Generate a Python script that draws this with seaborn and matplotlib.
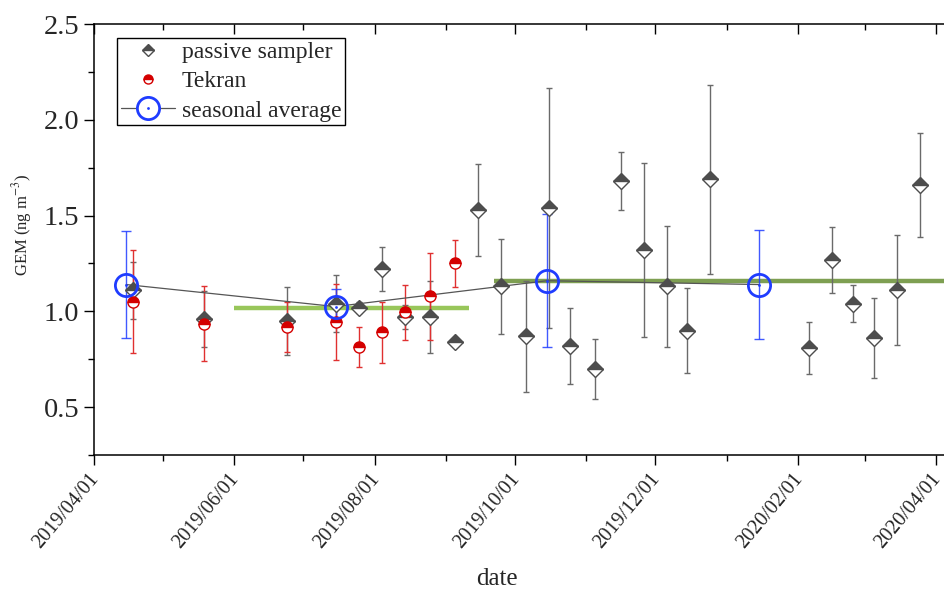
import matplotlib
matplotlib.use("Agg")
import matplotlib.pyplot as plt
import matplotlib.dates as mdates
from matplotlib.lines import Line2D
from matplotlib.legend_handler import HandlerTuple
from matplotlib.ticker import MultipleLocator
from matplotlib.transforms import ScaledTranslation
import pandas as pd
import seaborn as sns

# passive sampler (grey diamonds)
ps_dates = ["2019-04-18", "2019-05-19", "2019-06-24", "2019-07-15", "2019-07-25",
            "2019-08-04", "2019-08-14", "2019-08-25", "2019-09-05", "2019-09-15",
            "2019-09-25", "2019-10-06", "2019-10-16", "2019-10-25", "2019-11-05",
            "2019-11-16", "2019-11-26", "2019-12-06", "2019-12-15", "2019-12-25",
            "2020-02-06", "2020-02-16", "2020-02-25", "2020-03-05", "2020-03-15",
            "2020-03-25"]
ps_gem = [1.11, 0.96, 0.95, 1.04, 1.02, 1.22, 0.97, 0.97, 0.84, 1.53,
          1.13, 0.87, 1.54, 0.82, 0.70, 1.68, 1.32, 1.13, 0.90, 1.69,
          0.81, 1.27, 1.04, 0.86, 1.11, 1.66]
ps_err = [0.15, 0.145, 0.177, 0.148, 0.03, 0.115, 0.064, 0.186, 0.01, 0.24,
          0.25, 0.29, 0.626, 0.20, 0.157, 0.15, 0.455, 0.315, 0.224, 0.493,
          0.136, 0.172, 0.095, 0.208, 0.287, 0.27]

# Tekran (red half circles)
tk_dates = ["2019-04-18", "2019-05-19", "2019-06-24", "2019-07-15", "2019-07-25",
            "2019-08-04", "2019-08-14", "2019-08-25", "2019-09-05"]
tk_gem = [1.05, 0.935, 0.92, 0.945, 0.815, 0.89, 0.995, 1.08, 1.25]
tk_err = [0.27, 0.195, 0.13, 0.20, 0.105, 0.157, 0.142, 0.227, 0.122]

# seasonal average (blue circles)
sa_dates = ["2019-04-15", "2019-07-15", "2019-10-15", "2020-01-15"]
sa_gem = [1.14, 1.025, 1.16, 1.14]
sa_err = [0.277, 0.09, 0.347, 0.284]

# period averages (green bars)
per_start = ["2019-06-01", "2019-09-22"]
per_end = ["2019-09-11", "2020-04-10"]
per_gem = [1.02, 1.16]
per_colors = ["#98c65a", "#7e9f52"]

tick_dates = ["2019-04-01", "2019-06-01", "2019-08-01", "2019-10-01",
              "2019-12-01", "2020-02-01", "2020-04-01"]
tick_labels = ["2019/04/01", "2019/06/01", "2019/08/01", "2019/10/01",
               "2019/12/01", "2020/02/01", "2020/04/01"]

sns.set_style("ticks")
plt.rcParams["font.family"] = ["Liberation Serif", "DejaVu Serif"]
plt.rcParams["mathtext.fontset"] = "stix"

ps = pd.DataFrame({"date": pd.to_datetime(ps_dates), "gem": ps_gem, "err": ps_err})
tk = pd.DataFrame({"date": pd.to_datetime(tk_dates), "gem": tk_gem, "err": tk_err})
sa = pd.DataFrame({"date": pd.to_datetime(sa_dates), "gem": sa_gem, "err": sa_err})

grey = "#4d4d4d"
red = "#d40000"
blue = "#1f3cff"

fig = plt.figure(figsize=(9.45, 5.98), dpi=100)
ax = fig.add_axes([0.0995, 0.2391, 0.9005, 0.7207])

# green period averages
for s, e, g, c in zip(per_start, per_end, per_gem, per_colors):
    ax.plot([pd.Timestamp(s), pd.Timestamp(e)], [g, g], color=c, lw=3.2,
            solid_capstyle="butt", zorder=1.5)

# error bars
ax.errorbar(ps["date"], ps["gem"], yerr=ps["err"], fmt="none", ecolor="#6a6a6a",
            elinewidth=1, capsize=2.5, capthick=1, zorder=2)
ax.errorbar(tk["date"], tk["gem"], yerr=tk["err"], fmt="none", ecolor="#e03030",
            elinewidth=1, capsize=2.5, capthick=1, zorder=2.1)
ax.errorbar(sa["date"], sa["gem"], yerr=sa["err"], fmt="none", ecolor=blue,
            elinewidth=1, capsize=3.5, capthick=1, zorder=2.2, alpha=0.85)

# seasonal connecting line
sns.lineplot(data=sa, x="date", y="gem", ax=ax, color="#555555", lw=0.9,
             sort=False, legend=False, zorder=2.5)

# markers
ax.plot(ps["date"], ps["gem"], ls="none", marker="D", ms=8, fillstyle="top",
        mfc=grey, markerfacecoloralt="white", mec=grey, mew=1, zorder=3)
ax.plot(tk["date"], tk["gem"], ls="none", marker="o", ms=8, fillstyle="top",
        mfc=red, markerfacecoloralt="white", mec=red, mew=1, zorder=3.1)
ax.plot(sa["date"], sa["gem"], ls="none", marker="o", ms=16, mfc="none",
        mec=blue, mew=2, zorder=4)
ax.plot(sa["date"], sa["gem"], ls="none", marker="o", ms=2, mfc=blue,
        mec=blue, mew=0, zorder=4.1)

# axes
x0 = pd.Timestamp("2019-04-01")
ax.set_xlim(x0, x0 + pd.Timedelta(days=370))
ax.set_ylim(0.25, 2.5)
ax.yaxis.set_minor_locator(MultipleLocator(0.25))
ax.set_yticks([0.5, 1.0, 1.5, 2.0, 2.5])
ax.set_yticklabels(["0.5", "1.0", "1.5", "2.0", "2.5"], fontsize=20.5)

ax.set_xticks(pd.to_datetime(tick_dates))
ax.xaxis.set_minor_locator(mdates.MonthLocator(bymonth=[1, 3, 5, 7, 9, 11]))

ax.tick_params(axis="both", which="major", direction="out", length=7, width=1,
               color="black")
ax.tick_params(axis="both", which="minor", direction="out", length=4, width=1,
               color="black")
ax.set_xticklabels(tick_labels, rotation=50, ha="right", va="top", fontsize=14.5)
shift = ScaledTranslation(0.09, 0.0, fig.dpi_scale_trans)
for lbl in ax.get_xticklabels():
    lbl.set_transform(lbl.get_transform() + shift)

for sp in ["left", "bottom", "top"]:
    ax.spines[sp].set_linewidth(1.1)
    ax.spines[sp].set_color("black")
ax.spines["right"].set_visible(False)

# inward ticks on the top spine
top = ax.twiny()
top.set_xlim(ax.get_xlim())
top.xaxis.set_major_locator(mdates.MonthLocator(bymonth=[2, 4, 6, 8, 10, 12]))
top.xaxis.set_minor_locator(mdates.MonthLocator(bymonth=[1, 3, 5, 7, 9, 11]))
top.tick_params(axis="x", which="major", direction="in", length=7, width=1,
                labeltop=False, color="black")
top.tick_params(axis="x", which="minor", direction="in", length=4, width=1,
                color="black")
for sp in top.spines.values():
    sp.set_visible(False)

ax.set_xlabel("date", fontsize=18)
ax.xaxis.set_label_coords(0.4735, -0.262)
ax.set_ylabel("GEM (ng m$^{-3}$)", fontsize=12)
ax.yaxis.set_label_coords(-0.07, 0.534)

# legend
h_ps = Line2D([], [], ls="none", marker="D", ms=6, fillstyle="top", mfc=grey,
              markerfacecoloralt="white", mec=grey)
h_tk = Line2D([], [], ls="none", marker="o", ms=6.5, fillstyle="top", mfc=red,
              markerfacecoloralt="white", mec=red)
h_sa = Line2D([], [], ls="-", color="#555555", lw=0.9, marker="o", ms=16,
              mfc="white", mec=blue, mew=2)
h_dot = Line2D([], [], ls="none", marker="o", ms=2, mfc=blue, mec=blue, mew=0)
leg = ax.legend([h_ps, h_tk, (h_sa, h_dot)],
                ["passive sampler", "Tekran", "seasonal average"],
                handler_map={tuple: HandlerTuple(ndivide=1)},
                loc="upper left", bbox_to_anchor=(0.027, 0.968),
                borderaxespad=0, fontsize=17, frameon=True, fancybox=False,
                framealpha=1, edgecolor="black", handlelength=2.3,
                handletextpad=0.3, labelspacing=0.33, borderpad=0.15)
leg.get_frame().set_linewidth(1)

fig.savefig("out.png", dpi=100)
